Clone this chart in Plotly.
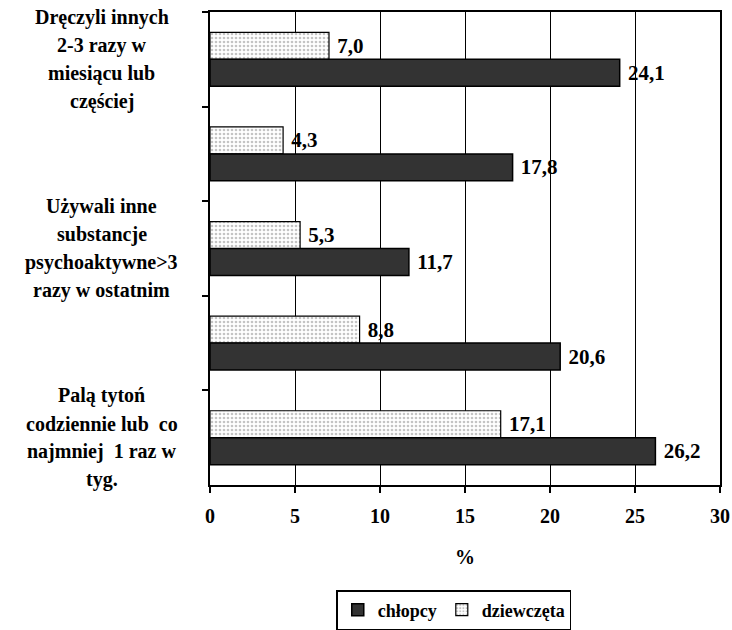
import plotly.graph_objects as go

categories = [
    "Dręczyli innych 2-3 razy w miesiącu lub częściej",
    "kategoria 2",
    "Używali inne substancje psychoaktywne>3 razy w ostatnim",
    "kategoria 4",
    "Palą tytoń codziennie lub co najmniej 1 raz w tyg.",
]
category_label_lines = [
    ["Dręczyli innych", "2-3 razy w", "miesiącu lub", "częściej"],
    [],
    ["Używali inne", "substancje", "psychoaktywne>3", "razy w ostatnim"],
    [],
    ["Palą tytoń", "codziennie lub  co", "najmniej  1 raz w", "tyg."],
]
chlopcy = [24.1, 17.8, 11.7, 20.6, 26.2]
dziewczeta = [7.0, 4.3, 5.3, 8.8, 17.1]
x_ticks = [0, 5, 10, 15, 20, 25, 30]

FONT = "Liberation Serif"

def fmt(v):
    return " " + f"{v:.1f}".replace(".", ",")

fig = go.Figure()
fig.add_trace(go.Bar(
    name="dziewczęta", y=categories, x=dziewczeta, orientation="h",
    marker=dict(color="white", line=dict(color="black", width=1.2),
                pattern=dict(shape=".", fgcolor="#8a8a8a", bgcolor="white", size=4, solidity=0.35)),
    text=[fmt(v) for v in dziewczeta], textposition="outside",
    textfont=dict(family=FONT, size=21, color="black", weight="bold"),
    cliponaxis=False,
))
fig.add_trace(go.Bar(
    name="chłopcy", y=categories, x=chlopcy, orientation="h",
    marker=dict(color="#333333", line=dict(color="black", width=1.5)),
    text=[fmt(v) for v in chlopcy], textposition="outside",
    textfont=dict(family=FONT, size=21, color="black", weight="bold"),
    cliponaxis=False,
))

LINE_PITCH = 28
for cat, lines in zip(categories, category_label_lines):
    n = len(lines)
    for i, line in enumerate(lines):
        shift = ((n - 1) / 2 - i) * LINE_PITCH
        fig.add_annotation(x=-0.212, xref="paper", y=cat, yref="y", text=line,
                           showarrow=False, xanchor="center", yanchor="middle", align="center",
                           yshift=shift,
                           font=dict(family=FONT, size=20, color="black", weight="bold"))

fig.update_layout(
    width=732, height=630,
    margin=dict(l=210, r=12, t=12, b=145, autoexpand=False),
    paper_bgcolor="white", plot_bgcolor="white",
    barmode="group", bargap=0.43, bargroupgap=0,
    font=dict(family=FONT, size=20, color="black", weight="bold"),
    showlegend=True,
    legend=dict(orientation="h", traceorder="reversed", x=0.478, xanchor="center",
                y=-0.222, yanchor="top", bordercolor="black", borderwidth=1.5,
                font=dict(family=FONT, size=18, color="black", weight="bold"),
                itemwidth=30),
)
fig.update_xaxes(range=[0, 30], tickvals=x_ticks, ticktext=[str(t) for t in x_ticks],
                 automargin=False,
                 showgrid=True, gridcolor="black", gridwidth=1.3,
                 showline=True, linecolor="black", linewidth=2, mirror=True,
                 ticks="outside", ticklen=6, tickwidth=2, tickcolor="black",
                 ticklabelstandoff=6,
                 zeroline=False,
                 title=dict(text="%", font=dict(family=FONT, size=20, weight="bold"), standoff=24),
                 tickfont=dict(family=FONT, size=20, weight="bold"))
fig.update_yaxes(range=[4.5, -0.5], tickson="boundaries", showticklabels=False,
                 automargin=False,
                 showgrid=False, showline=True, linecolor="black", linewidth=2, mirror=True,
                 ticks="outside", ticklen=6, tickwidth=2, tickcolor="black")

fig.write_html(
    "out.html",
    config={"displayModeBar": False},
    post_script="document.body.style.margin='0';document.body.style.overflow='hidden';",
)
